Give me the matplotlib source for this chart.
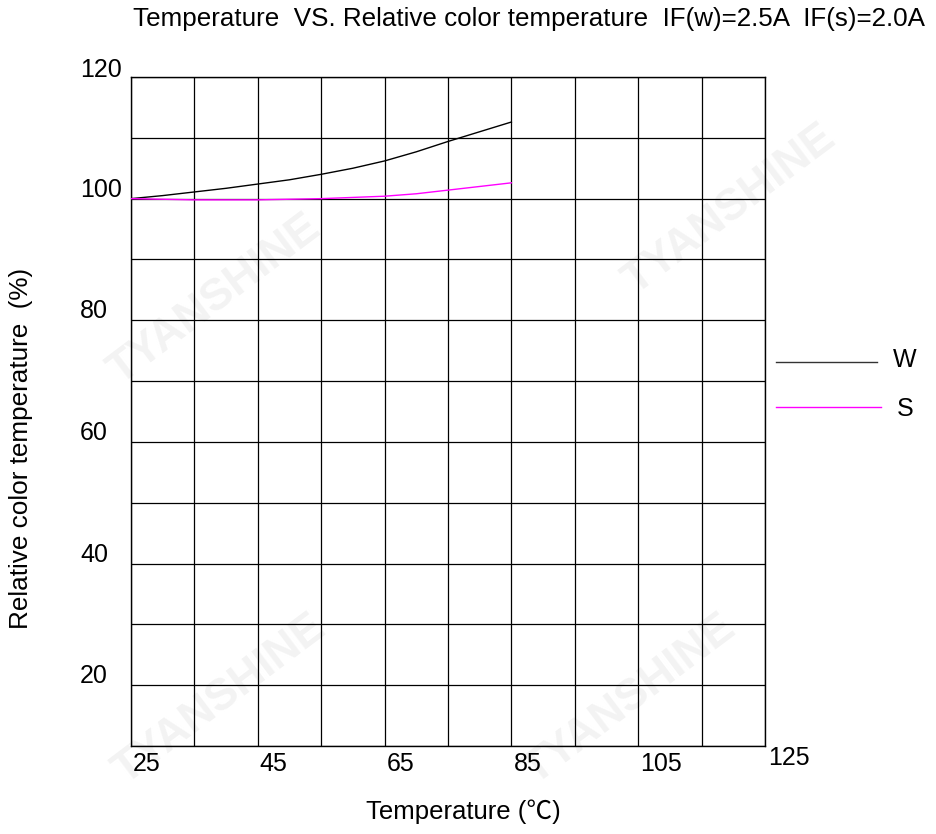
import matplotlib
matplotlib.use("Agg")
import matplotlib.pyplot as plt
import matplotlib.transforms as mtransforms

plt.rcParams['font.family'] = ['Liberation Sans', 'Noto Sans CJK SC', 'DejaVu Sans']

temps = [25, 30, 35, 40, 45, 50, 55, 60, 65, 70, 75, 80, 85]
w_vals = [100.0, 100.5, 101.1, 101.7, 102.4, 103.1, 104.0, 105.0, 106.2, 107.7, 109.4, 111.0, 112.6]
s_vals = [100.0, 99.9, 99.8, 99.8, 99.8, 99.9, 100.0, 100.2, 100.4, 100.8, 101.4, 102.0, 102.6]
x_ticks = [25, 45, 65, 85, 105, 125]
y_ticks = [20, 40, 60, 80, 100, 120]
title = "Temperature  VS. Relative color temperature  IF(w)=2.5A  IF(s)=2.0A"
xlabel = "Temperature (\u2103)"
ylabel = "Relative color temperature  (%)"
series_names = ["W", "S"]

W, H = 936, 834
fig = plt.figure(figsize=(W / 100, H / 100), dpi=100)

# faint watermarks (behind everything)
for (cx, cy) in [(215, 300), (730, 210), (220, 700), (630, 700)]:
    fig.text(cx / W, 1 - cy / H, "TYANSHINE", ha='center', va='center', rotation=37,
             fontsize=32, fontweight='bold', color='#f3f3f3', zorder=-5)

ax = fig.add_axes([131 / W, 1 - 746 / H, (765 - 131) / W, (746 - 77) / H])
ax.patch.set_alpha(0)
ax.set_xlim(25, 125)
ax.set_ylim(10, 120)

for x in range(25, 126, 10):
    ax.axvline(x, color='black', lw=0.9, zorder=1)
for y in range(10, 121, 10):
    ax.axhline(y, color='black', lw=0.9, zorder=1)
for sp in ax.spines.values():
    sp.set_linewidth(1.0)

ax.plot(temps, w_vals, color='black', lw=1.0, zorder=3)
ax.plot(temps, s_vals, color='#ff00ff', lw=1.0, zorder=3)

ax.set_xticks([])
ax.set_yticks([])

fs = 18
# x tick labels (left aligned at gridlines)
for t in x_ticks:
    dy = 12 if t == 125 else 18
    dx = 3 if t == 125 else 2
    off = mtransforms.ScaledTranslation(dx / 100, -dy / 100, fig.dpi_scale_trans)
    ax.text(t, 10, str(t), transform=ax.transData + off, ha='left', va='center', fontsize=fs)
# y tick labels (left aligned at x=80px, raised above gridlines)
blend = mtransforms.blended_transform_factory(fig.transFigure, ax.transData)
for t in y_ticks:
    dy = 7 if t == 120 else 9
    off = mtransforms.ScaledTranslation(0, dy / 100, fig.dpi_scale_trans)
    ax.text(80 / W, t, str(t), transform=blend + off, ha='left', va='center', fontsize=fs)

fig.text(529 / W, 1 - 19 / H, title, ha='center', va='center', fontsize=18.7)
fig.text(463 / W, 1 - 812 / H, xlabel, ha='center', va='center', fontsize=18.5)
fig.text(21 / W, 1 - 448 / H, ylabel, ha='center', va='center', rotation=90, fontsize=18.8)

# legend drawn outside at right
fig.add_artist(plt.Line2D([776 / W, 877 / W], [1 - 362 / H, 1 - 362 / H], color='#333333', lw=1.0))
fig.add_artist(plt.Line2D([776 / W, 881 / W], [1 - 407 / H, 1 - 407 / H], color='#ff00ff', lw=1.0))
fig.text(893 / W, 1 - 360 / H, series_names[0], ha='left', va='center', fontsize=fs)
fig.text(897 / W, 1 - 409 / H, series_names[1], ha='left', va='center', fontsize=fs)

fig.savefig("out.png", dpi=100, facecolor='white')
